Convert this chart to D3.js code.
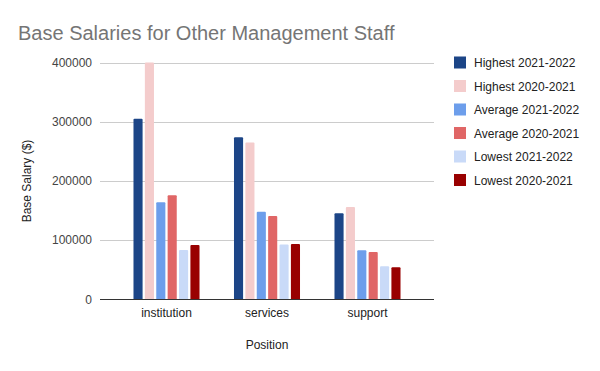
<!DOCTYPE html>
<html>
<head>
<meta charset="utf-8">
<script src="https://cdn.jsdelivr.net/npm/d3@7"></script>
<style>
  body { margin: 0; background: #fff; }
  text { font-family: "Liberation Sans", Arial, sans-serif; }
</style>
</head>
<body>
<svg id="chart" width="600" height="371"></svg>
<script>
// data
let positions = ["institution", "services", "support"];
let seriesNames = ["Highest 2021-2022", "Highest 2020-2021", "Average 2021-2022",
    "Average 2020-2021", "Lowest 2021-2022", "Lowest 2020-2021"];
let seriesColors = ["#1c4587", "#f4cccc", "#6d9eeb", "#e06666", "#c9daf8", "#990000"];
let highest2122 = [305000, 274000, 145500];
let highest2021 = [400000, 265000, 156000];
let average2122 = [164000, 148000, 83000];
let average2021 = [176000, 141000, 80000];
let lowest2122 = [83500, 93000, 56000];
let lowest2021 = [92000, 93500, 54500];
let yTicks = [0, 100000, 200000, 300000, 400000];

let seriesValues = [highest2122, highest2021, average2122, average2021, lowest2122, lowest2021];

let svg = d3.select("#chart");

let plotLeft = 100, plotRight = 434, plotTop = 62.5, plotBottom = 299.5;

let x0 = d3.scaleBand()
    .domain(positions)
    .range([116.25, 417.75])
    .paddingInner(0.343)
    .paddingOuter(0.1715);

let x1 = d3.scaleBand()
    .domain(d3.range(seriesNames.length))
    .range([0, x0.bandwidth()])
    .paddingInner(0.2);

let y = d3.scaleLinear()
    .domain([0, 400000])
    .range([plotBottom, plotTop]);

// gridlines
svg.append("g")
    .selectAll("line")
    .data(yTicks.filter(d => d !== 0)).enter()
    .append("line")
    .attr("x1", plotLeft)
    .attr("x2", plotRight)
    .attr("y1", d => Math.round(y(d)) + 0.5)
    .attr("y2", d => Math.round(y(d)) + 0.5)
    .attr("stroke", "#cccccc")
    .attr("stroke-width", 1);

// y tick labels
svg.append("g")
    .selectAll("text")
    .data(yTicks).enter()
    .append("text")
    .attr("x", 92)
    .attr("y", d => y(d) + 4)
    .attr("text-anchor", "end")
    .attr("font-size", 12)
    .attr("fill", "#444444")
    .text(d => d);

// bars
let groups = svg.append("g")
    .selectAll("g")
    .data(positions).enter()
    .append("g")
    .attr("transform", d => "translate(" + x0(d) + ",0)");

groups.selectAll("path")
    .data((d, i) => seriesValues.map((s, k) => ({ k: k, v: s[i] })))
    .enter()
    .append("path")
    .attr("fill", d => seriesColors[d.k])
    .attr("d", d => {
        let bx = x1(d.k), bw = x1.bandwidth(), by = y(d.v), r = 1;
        return "M" + bx + "," + plotBottom +
            "V" + (by + r) +
            "Q" + bx + "," + by + " " + (bx + r) + "," + by +
            "H" + (bx + bw - r) +
            "Q" + (bx + bw) + "," + by + " " + (bx + bw) + "," + (by + r) +
            "V" + plotBottom + "Z";
    });

// baseline
svg.append("line")
    .attr("x1", plotLeft)
    .attr("x2", plotRight)
    .attr("y1", plotBottom)
    .attr("y2", plotBottom)
    .attr("stroke", "#333333")
    .attr("stroke-width", 1);

// x labels
svg.append("g")
    .selectAll("text")
    .data(positions).enter()
    .append("text")
    .attr("x", d => x0(d) + x0.bandwidth() / 2)
    .attr("y", 317)
    .attr("text-anchor", "middle")
    .attr("font-size", 12)
    .attr("fill", "#222222")
    .text(d => d);

// axis titles
svg.append("text")
    .attr("x", (plotLeft + plotRight) / 2)
    .attr("y", 349)
    .attr("text-anchor", "middle")
    .attr("font-size", 12)
    .attr("fill", "#222222")
    .text("Position");

svg.append("text")
    .attr("transform", "translate(31,181) rotate(-90)")
    .attr("text-anchor", "middle")
    .attr("font-size", 12)
    .attr("fill", "#222222")
    .text("Base Salary ($)");

// title
svg.append("text")
    .attr("x", 18)
    .attr("y", 40)
    .attr("font-size", 20)
    .attr("fill", "#757575")
    .text("Base Salaries for Other Management Staff");

// legend
let legend = svg.append("g")
    .selectAll("g")
    .data(seriesNames).enter()
    .append("g")
    .attr("transform", (d, i) => "translate(454," + (56.5 + i * 23.5) + ")");

legend.append("rect")
    .attr("width", 12)
    .attr("height", 12)
    .attr("fill", (d, i) => seriesColors[i]);

legend.append("text")
    .attr("x", 20)
    .attr("y", 10.5)
    .attr("font-size", 12)
    .attr("fill", "#222222")
    .text(d => d);
</script>
</body>
</html>
